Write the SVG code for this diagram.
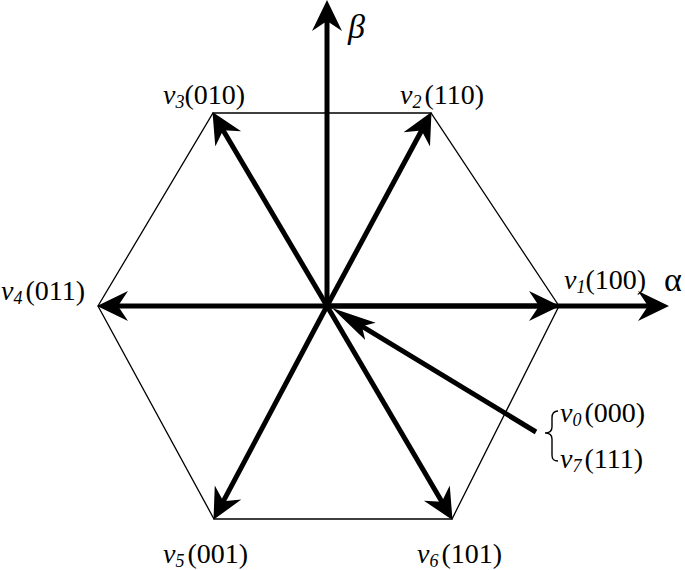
<svg xmlns="http://www.w3.org/2000/svg" width="685" height="570" viewBox="0 0 685 570">
<style>
.hex{fill:none;stroke:#000;stroke-width:1.3}
.vec{stroke:#000;stroke-width:5;fill:none}
text{font-family:'Liberation Serif','DejaVu Serif','Times New Roman',serif;font-size:28px;fill:#000}
.it{font-style:italic}
.sub{font-style:italic;font-size:18px}
.brace{fill:none;stroke:#000;stroke-width:1.4}
</style>
<defs>
<marker id="ah" markerUnits="userSpaceOnUse" markerWidth="34" markerHeight="34" viewBox="0 -17 34 34" refX="15" refY="0" orient="auto">
<path d="M31,0 L0,-15 L10,0 L0,15 Z" fill="#000"/>
</marker>
<marker id="ah0" markerUnits="userSpaceOnUse" markerWidth="48" markerHeight="24" viewBox="0 -12 48 24" refX="30" refY="0" orient="auto">
<path d="M45,0 L0,-10 L10,0 L0,10 Z" fill="#000"/>
</marker>
</defs>
<g id="hexagon">
<polygon class="hex" points="213,113 431,113 559,306 452,519 214,519 98,306"/>
</g>
<g id="connectors">
<line id="beta-axis" class="vec" x1="327" y1="306" x2="327" y2="16" marker-end="url(#ah)"/>
<line id="alpha-axis" class="vec" x1="327" y1="306" x2="653" y2="306" marker-end="url(#ah)"/>
<line id="e-v1" class="vec" x1="327" y1="306" x2="544" y2="306" marker-end="url(#ah)"/>
<line id="e-v2" class="vec" x1="327" y1="306" x2="423.9" y2="126.2" marker-end="url(#ah)"/>
<line id="e-v3" class="vec" x1="327" y1="306" x2="220.6" y2="125.9" marker-end="url(#ah)"/>
<line id="e-v4" class="vec" x1="327" y1="306" x2="113" y2="306" marker-end="url(#ah)"/>
<line id="e-v5" class="vec" x1="327" y1="306" x2="221" y2="505.7" marker-end="url(#ah)"/>
<line id="e-v6" class="vec" x1="327" y1="306" x2="444.4" y2="506.1" marker-end="url(#ah)"/>
<line id="e-v0" class="vec" x1="536" y1="432" x2="344.8" y2="315.8" marker-end="url(#ah0)"/>
</g>
<g id="beta"><text class="it" x="348" y="38" style="font-size:34px">β</text></g>
<g id="alpha"><text x="664" y="291" style="font-size:34px">α</text></g>
<g id="v1"><text x="564" y="289"><tspan class="it">v</tspan><tspan class="sub" dy="4">1</tspan><tspan dy="-4">(100)</tspan></text></g>
<g id="v2"><text x="400" y="104"><tspan class="it">v</tspan><tspan class="sub" dy="4">2</tspan><tspan dy="-4" dx="3">(110)</tspan></text></g>
<g id="v3"><text x="163" y="104"><tspan class="it">v</tspan><tspan class="sub" dy="4">3</tspan><tspan dy="-4">(010)</tspan></text></g>
<g id="v4"><text x="1" y="300"><tspan class="it">v</tspan><tspan class="sub" dy="4">4</tspan><tspan dy="-4" dx="3">(011)</tspan></text></g>
<g id="v5"><text x="163" y="563"><tspan class="it">v</tspan><tspan class="sub" dy="4">5</tspan><tspan dy="-4" dx="3">(001)</tspan></text></g>
<g id="v6"><text x="417" y="563"><tspan class="it">v</tspan><tspan class="sub" dy="4">6</tspan><tspan dy="-4" dx="3">(101)</tspan></text></g>
<g id="v0v7">
<path class="brace" d="M558,411 C553,411 552,414 552,418 L552,427 C552,431 549,433 545,433 C549,433 552,435 552,439 L552,455 C552,459 553,461 558,461"/>
<text x="560" y="422"><tspan class="it">v</tspan><tspan class="sub" dy="4">0</tspan><tspan dy="-4" dx="3">(000)</tspan></text>
<text x="560" y="468"><tspan class="it">v</tspan><tspan class="sub" dy="4">7</tspan><tspan dy="-4" dx="3">(111)</tspan></text>
</g>
</svg>
